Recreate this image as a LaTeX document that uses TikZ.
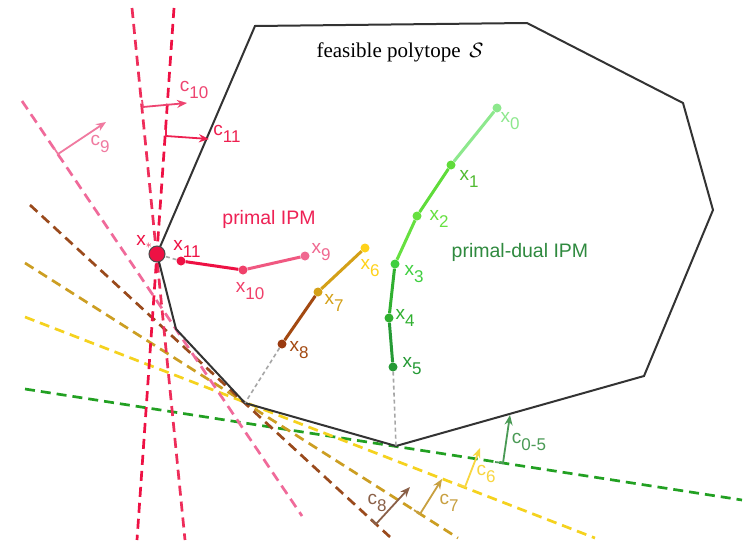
\documentclass[tikz,border=0pt]{standalone}
\usepackage{fontspec}
\setmainfont{Liberation Serif}
\newfontfamily\arialf{Liberation Sans}
\usetikzlibrary{arrows.meta}
\newcommand\xs[2]{#1\raisebox{-7.5pt}{\fontsize{17}{17}\selectfont #2}}
\definecolor{polyc}{HTML}{333333}
\definecolor{cgreen}{HTML}{22A022}
\definecolor{cyellow}{HTML}{F5D21E}
\definecolor{cgold}{HTML}{CC9E22}
\definecolor{cbrown}{HTML}{9A4A1C}
\definecolor{cpink}{HTML}{F06A9A}
\definecolor{credA}{HTML}{EE2D5A}
\definecolor{credB}{HTML}{EE1144}
\definecolor{a05}{HTML}{4A9A55}
\definecolor{a6}{HTML}{F8D640}
\definecolor{a7}{HTML}{C8A040}
\definecolor{a8}{HTML}{8A6048}
\definecolor{a9}{HTML}{F07AA0}
\definecolor{a10}{HTML}{EE4470}
\definecolor{a11}{HTML}{EE2050}
\definecolor{g0}{HTML}{8DE88D}
\definecolor{g1}{HTML}{5FDC3A}
\definecolor{g2}{HTML}{66E040}
\definecolor{g3}{HTML}{3FCF3F}
\definecolor{g4}{HTML}{30B030}
\definecolor{g5}{HTML}{259A35}
\definecolor{y6}{HTML}{FFD21A}
\definecolor{y7}{HTML}{D4A017}
\definecolor{y8}{HTML}{9A3A10}
\definecolor{p9}{HTML}{F06890}
\definecolor{p10}{HTML}{F0406A}
\definecolor{p11}{HTML}{EE1144}
\definecolor{primc}{HTML}{EE2255}
\definecolor{pdc}{HTML}{2F8A3F}
\begin{document}
\begin{tikzpicture}[x=1pt,y=-1pt,
  dashline/.style={line width=2.7pt, dash pattern=on 10pt off 6pt},
  poly/.style={line width=2pt, draw=polyc, line join=miter},
  traj/.style={line width=3pt},
  dot/.style={circle, inner sep=0pt, minimum size=9pt},
  lbl/.style={font=\arialf\fontsize{19}{19}\selectfont, inner sep=0pt},
  big/.style={font=\arialf\fontsize{19.5}{19.5}\selectfont, inner sep=0pt},
  nrm/.style={line width=1.8pt, -{Stealth[length=10pt,width=8pt]}},
  guide/.style={draw=gray!70, line width=1.6pt, dash pattern=on 4pt off 3pt}]
\useasboundingbox[fill=white] (0,0) rectangle (749,546);
% polytope vertices
\coordinate (v1) at (255,26);
\coordinate (v2) at (527,23);
\coordinate (v3) at (683,103);
\coordinate (v4) at (713,210);
\coordinate (v5) at (644,376);
\coordinate (v6) at (396,446);
\coordinate (v7) at (245,403);
\coordinate (v8) at (176,329);
\coordinate (v9) at (157,254);
% dashed constraint lines
\coordinate (gA) at (25,389);  \coordinate (gB) at (742,500);
\coordinate (yA) at (25,317);  \coordinate (yB) at (595,538);
\coordinate (oA) at (25,263);  \coordinate (oB) at (458,538);
\coordinate (bA) at (30,205);  \coordinate (bB) at (390,537);
\coordinate (pA) at (22,101);  \coordinate (pB) at (302,516);
\coordinate (rA) at (132,8);   \coordinate (rB) at (185,540);
\coordinate (sA) at (174,8);   \coordinate (sB) at (137,540);
\draw[dashline, cgreen] (gA) -- (gB);
\draw[dashline, cyellow] (yA) -- (yB);
\draw[dashline, cgold] (oA) -- (oB);
\draw[dashline, cbrown] (bA) -- (bB);
\draw[dashline, cpink] (pA) -- (pB);
\draw[dashline, credA] (rA) -- (rB);
\draw[dashline, credB] (sA) -- (sB);
% polytope
\draw[poly] (v1) -- (v2) -- (v3) -- (v4) -- (v5) -- (v6) -- (v7) -- (v8) -- (v9) -- cycle;
\node[font=\fontsize{21}{21}\selectfont, inner sep=0pt] (title) at (400,52) {feasible polytope \,$\mathcal{S}$};
% normal arrows
\coordinate (k05) at (495,462); \coordinate (b05) at (503,463); \coordinate (t05) at (510,415);
\coordinate (k6) at (458,484);  \coordinate (b6) at (465,487);  \coordinate (t6) at (480,448);
\coordinate (k7) at (414,510);  \coordinate (b7) at (420,514);  \coordinate (t7) at (442,479);
\coordinate (k8) at (371,519);  \coordinate (b8) at (376,524);  \coordinate (t8) at (410,487);
\coordinate (k9) at (54,148);   \coordinate (b9) at (58,154);   \coordinate (t9) at (106,122);
\coordinate (k10) at (142,100); \coordinate (b10) at (143,107); \coordinate (t10) at (187,103);
\coordinate (k11) at (166,129); \coordinate (b11) at (166,136); \coordinate (t11) at (209,139);
\draw[nrm, a05] (k05) -- (b05) -- (t05);
\draw[nrm, a6] (k6) -- (b6) -- (t6);
\draw[nrm, a7] (k7) -- (b7) -- (t7);
\draw[nrm, a8] (k8) -- (b8) -- (t8);
\draw[nrm, a9] (k9) -- (b9) -- (t9);
\draw[nrm, a10] (k10) -- (b10) -- (t10);
\draw[nrm, a11] (k11) -- (b11) -- (t11);
\node[lbl, text=a05] (lc05) at (529,442) {\xs{c}{0-5}};
\node[lbl, text=a6] (lc6) at (486,474) {\xs{c}{6}};
\node[lbl, text=a7] (lc7) at (449,503) {\xs{c}{7}};
\node[lbl, text=a8] (lc8) at (377,503) {\xs{c}{8}};
\node[lbl, text=a9] (lc9) at (100,144) {\xs{c}{9}};
\node[lbl, text=a10] (lc10) at (194,90) {\xs{c}{10}};
\node[lbl, text=a11] (lc11) at (227,134) {\xs{c}{11}};
% trajectory points
\node[dot, fill=g0] (x0) at (497,108) {};
\node[dot, fill=g1] (x1) at (451,165) {};
\node[dot, fill=g2] (x2) at (417,216) {};
\node[dot, fill=g3] (x3) at (395,264) {};
\node[dot, fill=g4] (x4) at (389,318) {};
\node[dot, fill=g5] (x5) at (393,367) {};
\node[dot, fill=y6] (x6) at (365,248) {};
\node[dot, fill=y7] (x7) at (318,292) {};
\node[dot, fill=y8] (x8) at (282,344) {};
\node[dot, fill=p9] (x9) at (305,256) {};
\node[dot, fill=p10] (x10) at (243,270) {};
\node[dot, fill=p11] (x11) at (181,261) {};
% guides
\draw[guide] (x8) -- (v7);
\draw[guide] (x5) -- (v6);
\draw[guide] (x11) -- (v9);
% trajectories
\draw[traj, g0] (x0) -- (x1);
\draw[traj, g1] (x1) -- (x2);
\draw[traj, g2] (x2) -- (x3);
\draw[traj, g4] (x3) -- (x4);
\draw[traj, g5] (x4) -- (x5);
\draw[traj, y7] (x6) -- (x7);
\draw[traj, y8!85!y7] (x7) -- (x8);
\draw[traj, p9!60!p10] (x9) -- (x10);
\draw[traj, p11] (x10) -- (x11);
\node[circle, fill=credB, draw=black!70, line width=1pt, minimum size=16pt, inner sep=0pt] (xst) at (v9) {};
% labels
\node[lbl, text=g0] (l0) at (510,121) {\xs{x}{0}};
\node[lbl, text=g1!85!black] (l1) at (469,179) {\xs{x}{1}};
\node[lbl, text=g2] (l2) at (439,219) {\xs{x}{2}};
\node[lbl, text=g3] (l3) at (414,274) {\xs{x}{3}};
\node[lbl, text=g4] (l4) at (405,318) {\xs{x}{4}};
\node[lbl, text=g5] (l5) at (412,366) {\xs{x}{5}};
\node[lbl, text=y6] (l6) at (370,268) {\xs{x}{6}};
\node[lbl, text=y7] (l7) at (334,303) {\xs{x}{7}};
\node[lbl, text=y8!85!y7] (l8) at (299,350) {\xs{x}{8}};
\node[lbl, text=p9] (l9) at (321,252) {\xs{x}{9}};
\node[lbl, text=p10] (l10) at (250,291) {\xs{x}{10}};
\node[lbl, text=p11] (l11) at (187,249) {\xs{x}{11}};
\node[lbl, text=p11] (lst) at (144,242) {x\raisebox{-3pt}{\fontsize{13}{13}\selectfont$\ast$}};
\node[big, text=primc] (tprim) at (269,219) {primal IPM};
\node[big, text=pdc] (tpd) at (520,252) {primal-dual IPM};
\end{tikzpicture}
\end{document}
